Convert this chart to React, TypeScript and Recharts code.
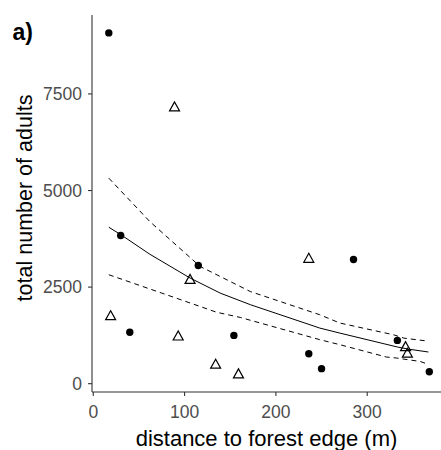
import { ComposedChart, Scatter, Line, XAxis, YAxis } from 'recharts';

// observed counts: open forest (circles) and edge plots (triangles)
const circleDist = [17, 30, 40, 115, 154, 236, 250, 285, 333, 368];
const circleAdults = [9080, 3835, 1330, 3060, 1250, 775, 390, 3215, 1120, 310];
const triangleDist = [19, 89, 93, 106, 134, 159, 236, 342, 344];
const triangleAdults = [1765, 7170, 1240, 2705, 510, 260, 3250, 965, 795];

// fitted curve with its confidence band
const fitDist = [17, 30, 62, 106, 139, 172, 248, 270, 333, 345, 367];
const fitAdults = [4050, 3860, 3350, 2735, 2345, 2045, 1440, 1310, 950, 895, 820];
const upperDist = [17, 62, 117, 139, 172, 248, 270, 329, 340, 367];
const upperAdults = [5320, 4195, 3035, 2775, 2385, 1785, 1570, 1265, 1180, 1100];
const lowerDist = [17, 75, 135, 161, 248, 270, 321, 332, 358, 367];
const lowerAdults = [2820, 2345, 1850, 1715, 1140, 1010, 690, 665, 575, 500];

const xTicks = [0, 100, 200, 300];
const yTicks = [0, 2500, 5000, 7500];

const toPoints = (xs: number[], ys: number[]) => xs.map((x, i) => ({ x, y: ys[i] }));

const circles = toPoints(circleDist, circleAdults);
const triangles = toPoints(triangleDist, triangleAdults);
const fit = toPoints(fitDist, fitAdults);
const upper = toPoints(upperDist, upperAdults);
const lower = toPoints(lowerDist, lowerAdults);

const FONT = '"Liberation Sans", Arial, sans-serif';
const tickStyle = { fill: '#4d4d4d', fontSize: 17.5, fontFamily: FONT };

const Triangle = (props: any) => {
  const { cx, cy } = props;
  if (cx == null || cy == null) return null;
  return (
    <polygon
      points={`${cx},${cy - 4.8} ${cx - 5},${cy + 4.2} ${cx + 5},${cy + 4.2}`}
      fill="none"
      stroke="#000"
      strokeWidth={1.2}
    />
  );
};

const Dot = (props: any) => {
  const { cx, cy } = props;
  if (cx == null || cy == null) return null;
  return <circle cx={cx} cy={cy} r={3.7} fill="#000" />;
};

export default function App() {
  return (
    <div style={{ position: 'absolute', left: 0, top: 0, background: '#fff' }}>
      <ComposedChart width={441} height={450} margin={{ top: 15, right: 0, bottom: 0, left: 0 }}>
        <XAxis
          type="number"
          dataKey="x"
          domain={[-1.4, 380.8]}
          allowDataOverflow
          ticks={xTicks}
          tick={tickStyle}
          tickSize={4}
          tickMargin={10}
          height={58}
          axisLine={{ stroke: '#333', strokeWidth: 1.1 }}
          tickLine={{ stroke: '#333', strokeWidth: 1.1 }}
        />
        <YAxis
          type="number"
          domain={[-215, 9543]}
          allowDataOverflow
          ticks={yTicks}
          tick={tickStyle}
          tickSize={4}
          tickMargin={6}
          width={92}
          axisLine={{ stroke: '#333', strokeWidth: 1.1 }}
          tickLine={{ stroke: '#333', strokeWidth: 1.1 }}
        />
        <Line data={upper} dataKey="y" stroke="#000" strokeWidth={1} strokeDasharray="5 4" dot={false} isAnimationActive={false} />
        <Line data={lower} dataKey="y" stroke="#000" strokeWidth={1} strokeDasharray="5 4" dot={false} isAnimationActive={false} />
        <Line data={fit} dataKey="y" stroke="#000" strokeWidth={1} dot={false} isAnimationActive={false} />
        <Scatter data={circles} dataKey="y" shape={Dot} isAnimationActive={false} />
        <Scatter data={triangles} dataKey="y" shape={Triangle} isAnimationActive={false} />
        <text x={12.5} y={40} fontFamily={FONT} fontWeight="bold" fontSize={23} fill="#000">
          a)
        </text>
        <text x={266.5} y={446} textAnchor="middle" fontFamily={FONT} fontSize={22} fill="#000">
          distance to forest edge (m)
        </text>
        <text
          x={31.5}
          y={198}
          textAnchor="middle"
          transform="rotate(-90 31.5 198)"
          fontFamily={FONT}
          fontSize={21.5}
          fill="#000"
        >
          total number of adults
        </text>
      </ComposedChart>
    </div>
  );
}
